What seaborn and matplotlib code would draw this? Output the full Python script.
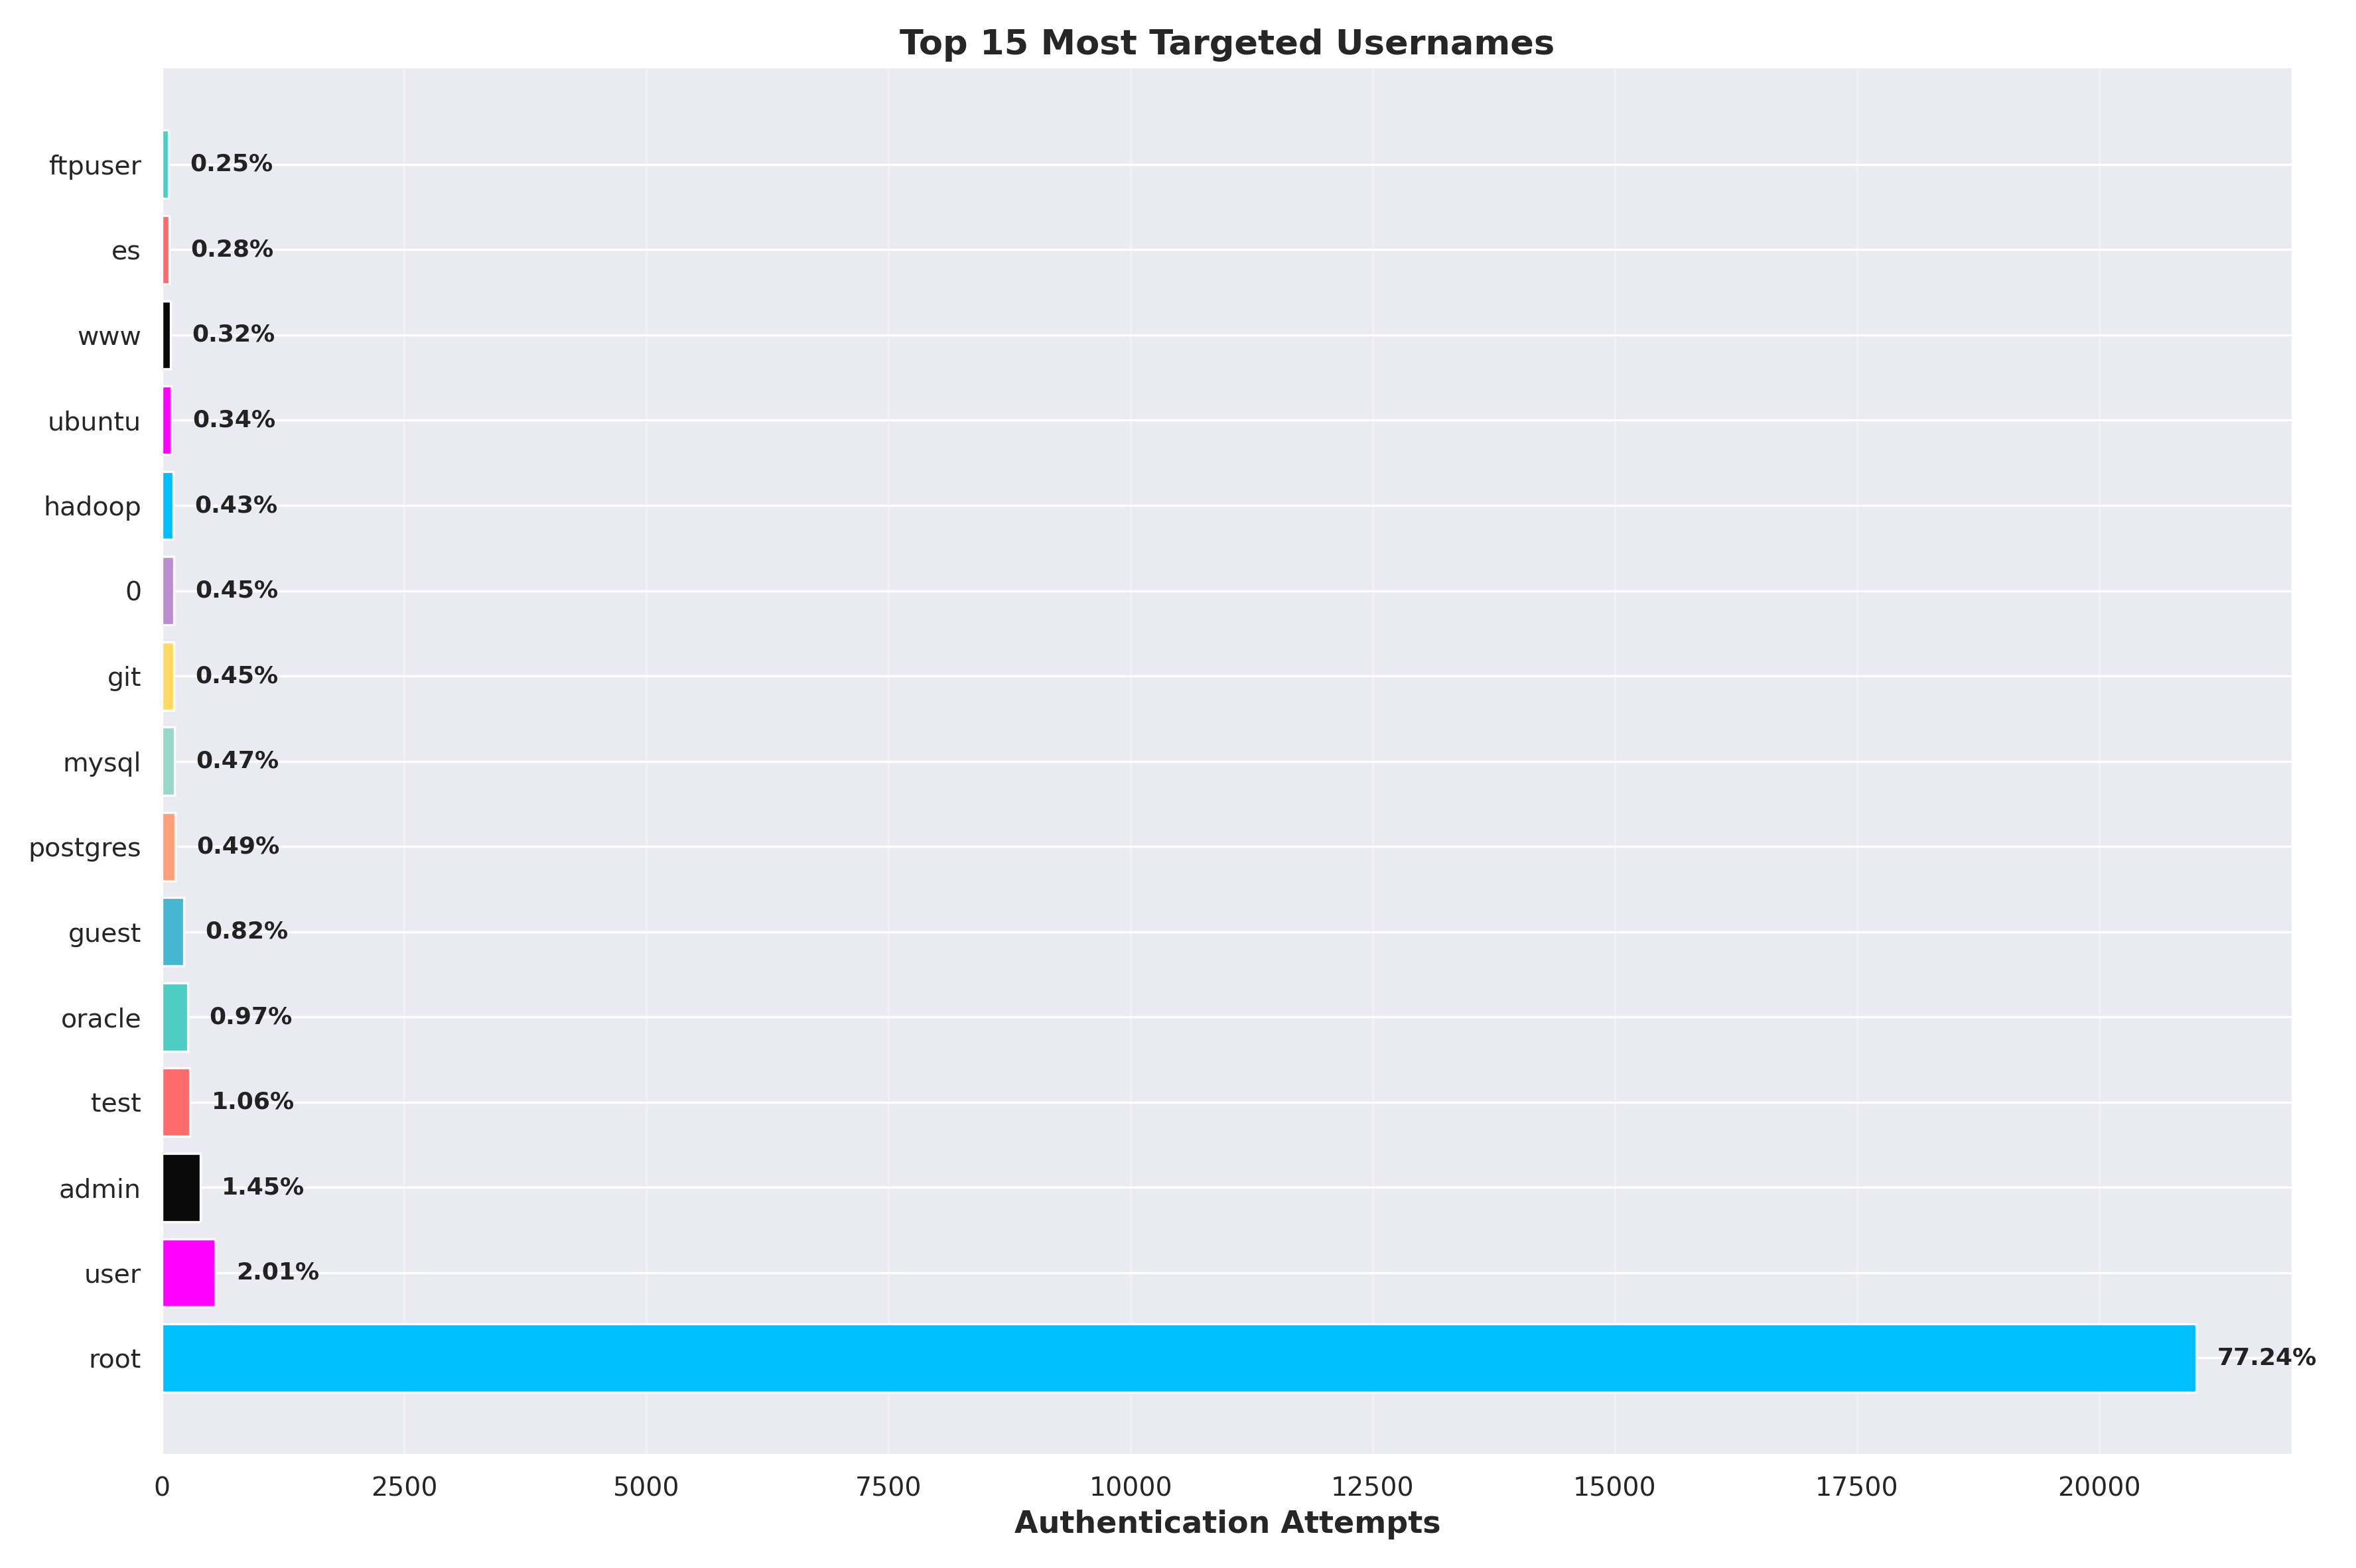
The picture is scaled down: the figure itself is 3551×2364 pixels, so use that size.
import matplotlib
matplotlib.use("Agg")
import matplotlib.pyplot as plt
import seaborn as sns
import pandas as pd

usernames = ["root","user","admin","test","oracle","guest","postgres","mysql","git","0","hadoop","ubuntu","www","es","ftpuser"]
attempts = [21000,546,394,288,264,223,133,128,122,122,117,92,87,76,68]
percents = [77.24,2.01,1.45,1.06,0.97,0.82,0.49,0.47,0.45,0.45,0.43,0.34,0.32,0.28,0.25]
palette = ["#00BFFF","#FF00FF","#0A0A0A","#FF6B6B","#4ECDC4","#45B7D1","#FFA07A","#98D8C8","#FFD966","#BB8FCE",
           "#00BFFF","#FF00FF","#0A0A0A","#FF6B6B","#4ECDC4"]

sns.set_theme(style="darkgrid")
plt.rcParams['font.family'] = ['DejaVu Sans']
fig, ax = plt.subplots(figsize=(3551/236.7, 2364/236.7), dpi=236.7)
df = pd.DataFrame({"u": usernames, "a": attempts})
ax.barh(df["u"], df["a"], color=palette, height=0.8)
for i, (a, p) in enumerate(zip(attempts, percents)):
    ax.text(a + 220, i, f"{p:.2f}%", va="center", ha="left", fontsize=11, fontweight="bold", color="#222222")
ax.set_xlim(0, 22000)
ax.set_xlabel("Authentication Attempts", fontsize=14, fontweight="bold")
ax.set_ylabel("")
ax.set_title("Top 15 Most Targeted Usernames", fontsize=16, fontweight="bold")
ax.tick_params(labelsize=12)
ax.grid(axis="x", alpha=0.3)
plt.tight_layout()
fig.savefig("out.png", dpi=236.7)
